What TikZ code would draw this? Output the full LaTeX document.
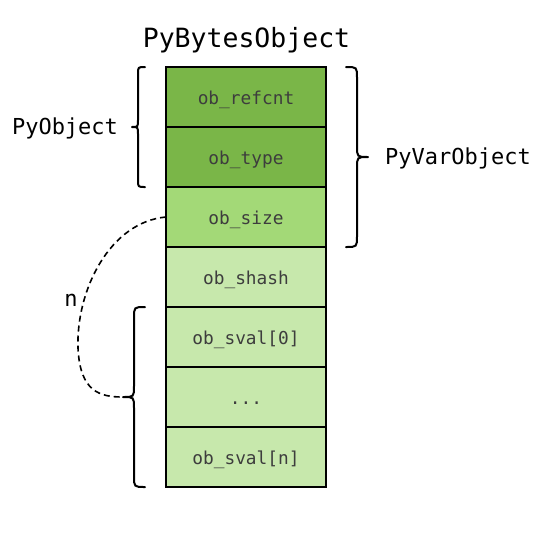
\documentclass[tikz,border=0pt]{standalone}
\usepackage{fontspec}
\newfontfamily\mono{DejaVu Sans Mono}
\definecolor{gA}{HTML}{7AB648}
\definecolor{gB}{HTML}{A3D977}
\definecolor{gC}{HTML}{C7E8AC}
\definecolor{txt}{HTML}{3D3D3D}
\tikzset{
  cell/.style={draw=black, line width=2pt, minimum width=160pt, minimum height=60pt,
    inner sep=0pt, outer sep=0pt, text height=14pt, text depth=0pt,
    font=\mono\fontsize{17.8}{18}\selectfont, text=txt},
  lbl/.style={font=\mono\fontsize{22}{22}\selectfont, text=black, inner sep=0pt},
  bracepath/.style={draw=black, line width=2pt, line cap=round, line join=round},
}
\begin{document}
\begin{tikzpicture}[x=1pt,y=-1pt]
\useasboundingbox (0,0) rectangle (546,542);
% cells
\node[cell, fill=gA] (r1) at (246,97)  {ob\_refcnt};
\node[cell, fill=gA] (r2) at (246,157) {ob\_type};
\node[cell, fill=gB] (r3) at (246,217) {ob\_size};
\node[cell, fill=gC] (r4) at (246,277) {ob\_shash};
\node[cell, fill=gC] (r5) at (246,337) {ob\_sval[0]};
\node[cell, fill=gC] (r6) at (246,397) {...};
\node[cell, fill=gC] (r7) at (246,457) {ob\_sval[n]};
% title
\node[lbl, font=\mono\fontsize{26.5}{26.5}\selectfont, anchor=base] (title) at (246.5,47) {PyBytesObject};
% PyObject brace
\coordinate (b1t) at (132,127);
\draw[bracepath] (145,67) .. controls (138,67) .. (138,74) -- (138,120)
  .. controls (138,127) .. (b1t) .. controls (138,127) .. (138,134) -- (138,180)
  .. controls (138,187) .. (145,187);
\node[lbl, anchor=base] (pyobj) at (65,134) {PyObject};
% PyVarObject brace
\coordinate (b2t) at (368,157);
\draw[bracepath] (346,67) .. controls (357,67) .. (357,78) -- (357,146)
  .. controls (357,157) .. (b2t) .. controls (357,157) .. (357,168) -- (357,236)
  .. controls (357,247) .. (346,247);
\node[lbl, anchor=base] (pyvar) at (458,164) {PyVarObject};
% bottom brace
\coordinate (b3t) at (123,397);
\draw[bracepath] (145,307) .. controls (134,307) .. (134,318) -- (134,386)
  .. controls (134,397) .. (b3t) .. controls (134,397) .. (134,408) -- (134,476)
  .. controls (134,487) .. (145,487);
% dashed link
\draw[black, line width=1.6pt, dashed, dash pattern=on 6pt off 4pt]
  (r3.west) .. controls (110,222) and (76,290) .. (78,348)
  .. controls (80,392) and (100,397) .. (b3t);
\node[lbl, anchor=base] (n) at (71,306) {n};
\end{tikzpicture}
\end{document}
